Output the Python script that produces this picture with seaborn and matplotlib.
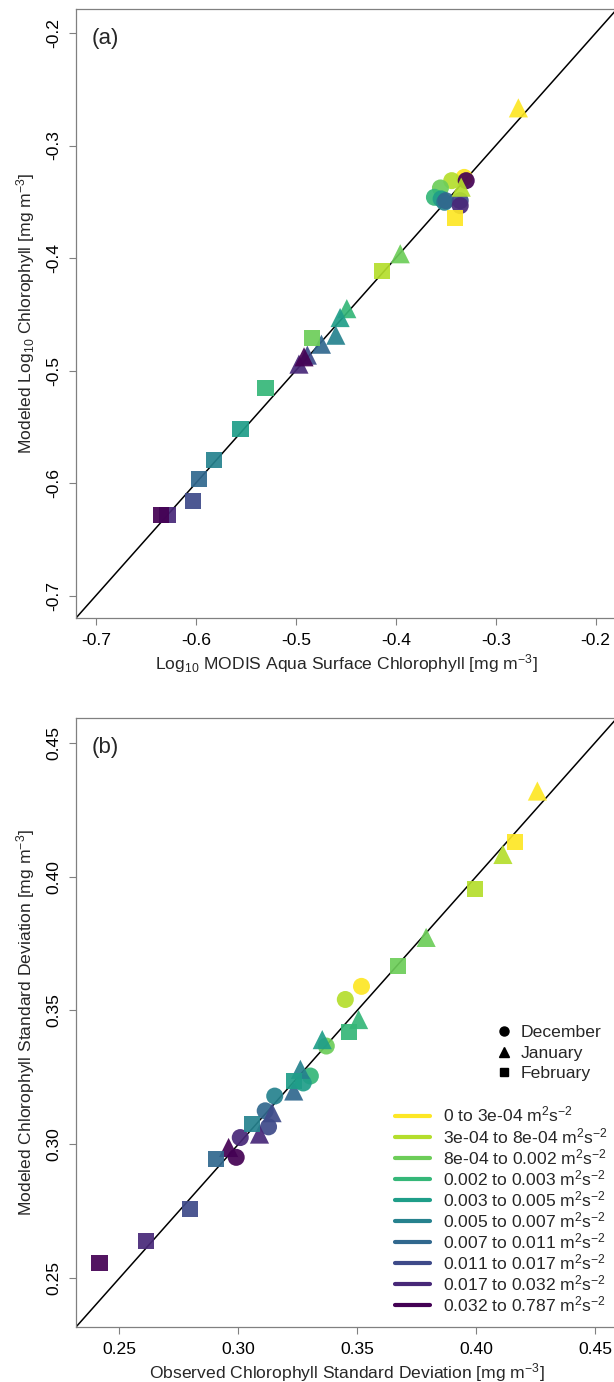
import numpy as np
import pandas as pd
import seaborn as sns
import matplotlib.pyplot as plt
from matplotlib.lines import Line2D
from matplotlib.ticker import FormatStrFormatter

# wind stress bins (legend order) and months
wind_bins = ['0 to 3e-04', '3e-04 to 8e-04', '8e-04 to 0.002', '0.002 to 0.003',
             '0.003 to 0.005', '0.005 to 0.007', '0.007 to 0.011', '0.011 to 0.017',
             '0.017 to 0.032', '0.032 to 0.787']
months = ['December', 'January', 'February']

# (a) log10 chlorophyll, MODIS (x) vs model (y), one value per bin
a_obs_dec = [-0.3315, -0.3440, -0.3553, -0.3613, -0.3546, -0.3513, -0.3500, -0.3355, -0.3355, -0.3295]
a_mod_dec = [-0.3283, -0.3312, -0.3377, -0.3460, -0.3474, -0.3504, -0.3490, -0.3490, -0.3534, -0.3312]
a_obs_jan = [-0.2773, -0.3345, -0.3955, -0.4490, -0.4557, -0.4600, -0.4744, -0.4885, -0.4969, -0.4918]
a_mod_jan = [-0.2665, -0.3370, -0.3962, -0.4450, -0.4529, -0.4686, -0.4766, -0.4863, -0.4943, -0.4878]
a_obs_feb = [-0.3403, -0.4142, -0.4834, -0.5303, -0.5554, -0.5815, -0.5973, -0.6030, -0.6284, -0.6347]
a_mod_feb = [-0.3643, -0.4116, -0.4707, -0.5153, -0.5522, -0.5794, -0.5965, -0.6158, -0.6285, -0.6285]

# (b) chlorophyll standard deviation, observed (x) vs model (y)
b_obs_dec = [0.3518, 0.3450, 0.3370, 0.3303, 0.3273, 0.3153, 0.3113, 0.3127, 0.3008, 0.2991]
b_mod_dec = [0.3590, 0.3541, 0.3367, 0.3255, 0.3229, 0.3180, 0.3125, 0.3065, 0.3025, 0.2951]
b_obs_jan = [0.4258, 0.4113, 0.3790, 0.3506, 0.3353, 0.3261, 0.3233, 0.3142, 0.3089, 0.2959]
b_mod_jan = [0.4320, 0.4083, 0.3773, 0.3466, 0.3391, 0.3280, 0.3199, 0.3118, 0.3038, 0.2988]
b_obs_feb = [0.4163, 0.3996, 0.3673, 0.3464, 0.3233, 0.3057, 0.2907, 0.2798, 0.2612, 0.2416]
b_mod_feb = [0.4130, 0.3953, 0.3665, 0.3420, 0.3236, 0.3075, 0.2945, 0.2758, 0.2637, 0.2556]

a_ticks = [-0.7, -0.6, -0.5, -0.4, -0.3, -0.2]
b_ticks = [0.25, 0.30, 0.35, 0.40, 0.45]

viridis10 = ['#FDE725', '#B4DE2C', '#6DCD59', '#35B779', '#1F9E89',
             '#26828E', '#31688E', '#3E4A89', '#482878', '#440154']
pal = dict(zip(wind_bins, viridis10))
month_marker = {'December': 'o', 'January': '^', 'February': 's'}
month_size = {'December': 150, 'January': 190, 'February': 135}


def make_df(obs, mod):
    rows = []
    for m, xs, ys in zip(months, obs, mod):
        for b, x, y in zip(wind_bins, xs, ys):
            rows.append([m, b, x, y])
    return pd.DataFrame(rows, columns=['month', 'bin', 'obs', 'mod'])


df_a = make_df([a_obs_dec, a_obs_jan, a_obs_feb], [a_mod_dec, a_mod_jan, a_mod_feb])
df_b = make_df([b_obs_dec, b_obs_jan, b_obs_feb], [b_mod_dec, b_mod_jan, b_mod_feb])

sns.set_theme(style='white')
plt.rcParams['font.family'] = ['Liberation Sans', 'DejaVu Sans']
plt.rcParams['mathtext.fontset'] = 'custom'
plt.rcParams['mathtext.rm'] = 'Liberation Sans'
plt.rcParams['mathtext.it'] = 'Liberation Sans:italic'
plt.rcParams['mathtext.bf'] = 'Liberation Sans:bold'
plt.rcParams['axes.unicode_minus'] = False

FS = 12.6
W, H = 614, 1382
fig = plt.figure(figsize=(W / 100, H / 100), dpi=100)
ax_a = fig.add_axes([76 / W, 1 - 618 / H, 541 / W, 609 / H])
ax_b = fig.add_axes([76 / W, 1 - 1327 / H, 541 / W, 609 / H])


def draw(ax, df, lims, ticks, fmt, xlabel, ylabel, tag):
    ax.axline((0, 0), slope=1, color='black', lw=1.1, zorder=1)
    for m in months:
        sns.scatterplot(data=df[df.month == m], x='obs', y='mod', hue='bin',
                        hue_order=wind_bins, palette=pal, marker=month_marker[m],
                        s=month_size[m], linewidth=0, alpha=0.92, legend=False,
                        ax=ax, zorder=3)
    ax.set_xlim(lims)
    ax.set_ylim(lims)
    ax.set_xticks(ticks)
    ax.set_yticks(ticks)
    ax.xaxis.set_major_formatter(FormatStrFormatter(fmt))
    ax.yaxis.set_major_formatter(FormatStrFormatter(fmt))
    ax.tick_params(direction='out', length=5, width=0.8, color='#808080',
                   labelsize=FS, pad=5.5, labelcolor='black', bottom=True, left=True)
    ax.tick_params(axis='y', labelrotation=90)
    for lbl in ax.get_yticklabels():
        lbl.set_va('center')
    for sp in ax.spines.values():
        sp.set_color('#808080')
        sp.set_linewidth(0.9)
    ax.set_xlabel(xlabel, fontsize=FS, labelpad=3)
    ax.set_ylabel(ylabel, fontsize=FS, labelpad=7)
    ax.text(0.054, 0.952, tag, transform=ax.transAxes, fontsize=16,
            ha='center', va='center')


draw(ax_a, df_a, (-0.72, -0.1786), a_ticks, '%.1f',
     'Log$_{10}$ MODIS Aqua Surface Chlorophyll [mg m$^{-3}$]',
     'Modeled Log$_{10}$ Chlorophyll [mg m$^{-3}$]', '(a)')
draw(ax_b, df_b, (0.2317, 0.4593), b_ticks, '%.2f',
     'Observed Chlorophyll Standard Deviation [mg m$^{-3}$]',
     'Modeled Chlorophyll Standard Deviation [mg m$^{-3}$]', '(b)')

# month (shape) legend
month_handles = [Line2D([], [], marker='o', color='black', ls='None', markersize=6.5),
                 Line2D([], [], marker='^', color='black', ls='None', markersize=7),
                 Line2D([], [], marker='s', color='black', ls='None', markersize=5.5)]
leg1 = ax_b.legend(month_handles, months, loc='upper left',
                   bbox_to_anchor=(495 / W, 1 - 1025 / H), bbox_transform=fig.transFigure,
                   frameon=False, fontsize=FS, handlelength=1.0, handletextpad=0.45,
                   borderpad=0, borderaxespad=0, labelspacing=0.3)
ax_b.add_artist(leg1)

# wind stress (colour) legend
bin_handles = [Line2D([], [], color=c, lw=3) for c in viridis10]
bin_labels = [b + ' m$^2$s$^{-2}$' for b in wind_bins]
ax_b.legend(bin_handles, bin_labels, loc='upper left',
            bbox_to_anchor=(395 / W, 1 - 1105 / H), bbox_transform=fig.transFigure,
            frameon=False, fontsize=FS, handlelength=2.0, handletextpad=0.75,
            borderpad=0, borderaxespad=0, labelspacing=0.065)

fig.savefig('out.png', dpi=100)
